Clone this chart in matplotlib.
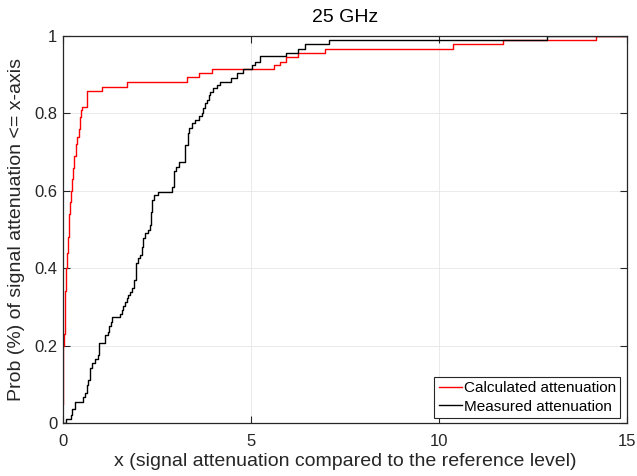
import matplotlib.pyplot as plt

# empirical CDF breakpoints: attenuation where the step happens, and the new probability
calc_x = [0.0, 0.003, 0.006, 0.010, 0.02, 0.04, 0.05, 0.06, 0.07, 0.09, 0.11, 0.13,
          0.15, 0.17, 0.19, 0.21, 0.23, 0.26, 0.30, 0.34, 0.38, 0.42, 0.44, 0.49,
          0.51, 0.65, 1.04, 1.71, 3.29, 3.63, 3.97, 5.62, 5.77, 5.93, 6.26, 6.97,
          10.38, 11.71, 14.18]
calc_p = [0.05, 0.10, 0.15, 0.20, 0.23, 0.27, 0.31, 0.34, 0.37, 0.40, 0.44, 0.48,
          0.51, 0.54, 0.57, 0.60, 0.63, 0.66, 0.69, 0.72, 0.74, 0.76, 0.79, 0.81,
          0.816, 0.859, 0.869, 0.882, 0.893, 0.905, 0.914, 0.925, 0.934, 0.946,
          0.957, 0.966, 0.979, 0.990, 1.0]

meas_x = [0.0, 0.07, 0.20, 0.25, 0.32, 0.54, 0.585, 0.63, 0.67, 0.72, 0.76, 0.85,
          0.92, 0.96, 1.12, 1.19, 1.23, 1.28, 1.31, 1.52, 1.56, 1.60, 1.65, 1.69,
          1.74, 1.78, 1.84, 1.89, 1.93, 1.99, 2.05, 2.09, 2.14, 2.18, 2.25, 2.31,
          2.34, 2.36, 2.42, 2.53, 2.89, 2.95, 3.00, 3.09, 3.24, 3.32, 3.35, 3.44,
          3.51, 3.62, 3.69, 3.73, 3.78, 3.82, 3.87, 3.91, 4.00, 4.09, 4.18, 4.48,
          4.64, 4.78, 5.02, 5.11, 5.24, 5.92, 6.26, 6.44, 7.08, 12.86]
meas_p = [0.0, 0.010, 0.020, 0.035, 0.055, 0.068, 0.077, 0.098, 0.111, 0.141, 0.154,
          0.165, 0.176, 0.206, 0.227, 0.236, 0.251, 0.262, 0.273, 0.282, 0.292,
          0.302, 0.313, 0.322, 0.331, 0.339, 0.348, 0.370, 0.413, 0.426, 0.434,
          0.456, 0.477, 0.490, 0.500, 0.512, 0.546, 0.576, 0.589, 0.598, 0.611,
          0.650, 0.662, 0.675, 0.718, 0.749, 0.761, 0.774, 0.783, 0.792, 0.800,
          0.813, 0.826, 0.835, 0.848, 0.856, 0.865, 0.873, 0.882, 0.892, 0.904,
          0.914, 0.925, 0.934, 0.948, 0.957, 0.966, 0.979, 0.990, 1.0]

x_ticks = [0, 5, 10, 15]
y_ticks = [0, 0.2, 0.4, 0.6, 0.8, 1]
y_tick_labels = ["0", "0.2", "0.4", "0.6", "0.8", "1"]

plt.rcParams['font.family'] = ['Liberation Sans', 'DejaVu Sans']

fig = plt.figure(figsize=(6.37, 4.76), dpi=100)
ax = fig.add_axes([63 / 637, 1 - 423 / 476, 564 / 637, 387 / 476])

axis_col = '#262626'

# extend the last level out to the right edge like cdfplot does
ax.step(calc_x + [16], calc_p + [1.0], where='post', color='red', lw=1.0,
        label='Calculated attenuation')
ax.step(meas_x + [16], meas_p + [1.0], where='post', color='black', lw=1.0,
        label='Measured attenuation')

ax.set_xlim(0, 15)
ax.set_ylim(0, 1)
ax.set_xticks(x_ticks)
ax.set_yticks(y_ticks)
ax.set_yticklabels(y_tick_labels)
ax.grid(True, color='#e6e6e6', lw=0.6)
ax.set_axisbelow(True)

ax.tick_params(direction='in', top=True, right=True, length=5, width=0.8,
               colors=axis_col, labelsize=12)
ax.tick_params(axis='x', pad=8)
ax.tick_params(axis='y', pad=4)
for s in ax.spines.values():
    s.set_color(axis_col)
    s.set_linewidth(0.9)

ax.set_title('25 GHz', fontsize=14, color='black', pad=10)
ax.set_xlabel('x (signal attenuation compared to the reference level)',
              fontsize=14, color=axis_col, labelpad=3)
ax.set_ylabel('Prob (%) of signal attenuation <= x-axis',
              fontsize=14, color=axis_col, labelpad=7)

leg = ax.legend(loc='lower right', bbox_to_anchor=(0.988, 0.012), fontsize=11,
                frameon=True, fancybox=False, handlelength=1.5, handletextpad=0.1,
                borderpad=0.3, labelspacing=0.3, borderaxespad=0)
leg.get_frame().set_edgecolor('#262626')
leg.get_frame().set_linewidth(0.8)
leg.get_frame().set_alpha(1)

fig.savefig('out.png', dpi=100)
